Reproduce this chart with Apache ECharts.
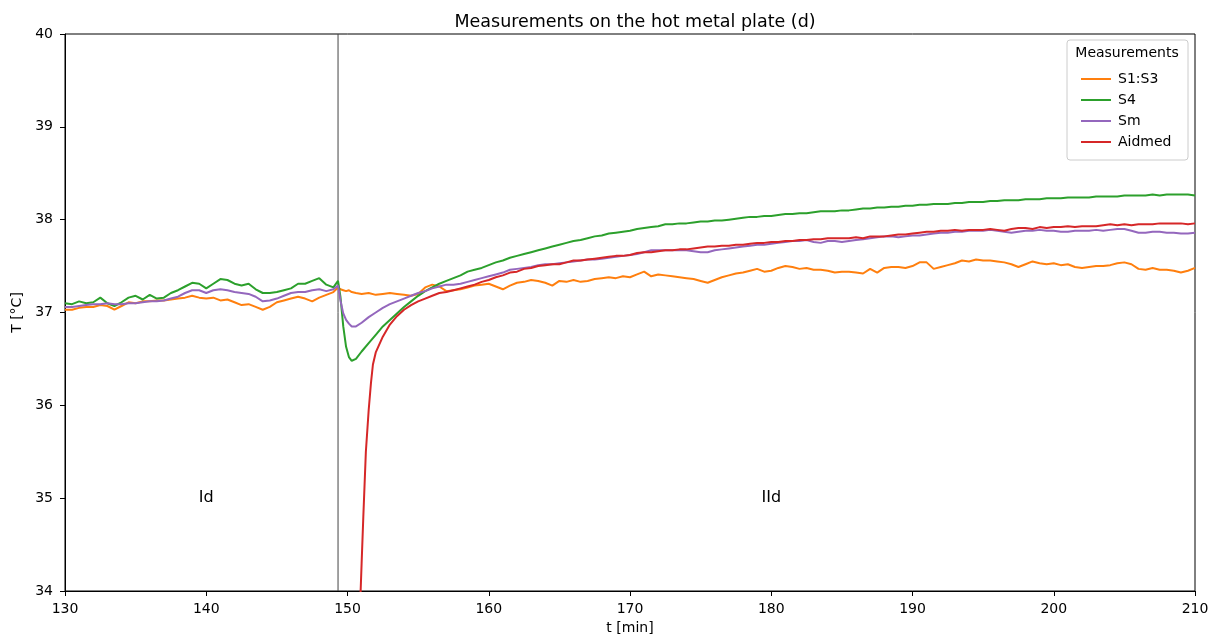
<!DOCTYPE html>
<html>
<head>
<meta charset="utf-8">
<title>Measurements on the hot metal plate (d)</title>
<script src="https://cdn.jsdelivr.net/npm/echarts@6/dist/echarts.min.js"></script>
<style>
  html, body { margin: 0; padding: 0; background: #fff; }
  #chart { width: 1217px; height: 641px; }
</style>
</head>
<body>
<div id="chart"></div>
<script>
// Time stamps [min] of the phase Id samples (ending at the phase boundary)
const timePre = [130, 130.5, 131, 131.5, 132, 132.5, 133, 133.5, 134, 134.5,
  135, 135.5, 136, 136.5, 137, 137.5, 138, 138.5, 139, 139.5,
  140, 140.5, 141, 141.5, 142, 142.5, 143, 143.5, 144, 144.5,
  145, 145.5, 146, 146.5, 147, 147.5, 148, 148.5, 149, 149.33];

// Time stamps [min] of the phase IId samples
const timePost = [149.5, 149.7, 149.9, 150.1, 150.3, 150.6,
  151, 151.5, 152, 152.5, 153, 153.5, 154, 154.5, 155, 155.5,
  156, 156.5, 157, 157.5, 158, 158.5, 159, 159.5, 160, 160.5,
  161, 161.5, 162, 162.5, 163, 163.5, 164, 164.5, 165, 165.5,
  166, 166.5, 167, 167.5, 168, 168.5, 169, 169.5, 170, 170.5,
  171, 171.5, 172, 172.5, 173, 173.5, 174, 174.5, 175, 175.5,
  176, 176.5, 177, 177.5, 178, 178.5, 179, 179.5, 180, 180.5,
  181, 181.5, 182, 182.5, 183, 183.5, 184, 184.5, 185, 185.5,
  186, 186.5, 187, 187.5, 188, 188.5, 189, 189.5, 190, 190.5,
  191, 191.5, 192, 192.5, 193, 193.5, 194, 194.5, 195, 195.5,
  196, 196.5, 197, 197.5, 198, 198.5, 199, 199.5, 200, 200.5,
  201, 201.5, 202, 202.5, 203, 203.5, 204, 204.5, 205, 205.5,
  206, 206.5, 207, 207.5, 208, 208.5, 209, 209.5,
  210];

// Time stamps [min] of the Aidmed samples (sensor recovers from below the range)
const timeAidmed = [150.85, 150.93, 151.0, 151.12, 151.3, 151.5, 151.66, 151.8, 152,
  152.5, 153, 153.5, 154, 154.5, 155, 155.5,
  156, 156.5, 157, 157.5, 158, 158.5, 159, 159.5, 160, 160.5,
  161, 161.5, 162, 162.5, 163, 163.5, 164, 164.5, 165, 165.5,
  166, 166.5, 167, 167.5, 168, 168.5, 169, 169.5, 170, 170.5,
  171, 171.5, 172, 172.5, 173, 173.5, 174, 174.5, 175, 175.5,
  176, 176.5, 177, 177.5, 178, 178.5, 179, 179.5, 180, 180.5,
  181, 181.5, 182, 182.5, 183, 183.5, 184, 184.5, 185, 185.5,
  186, 186.5, 187, 187.5, 188, 188.5, 189, 189.5, 190, 190.5,
  191, 191.5, 192, 192.5, 193, 193.5, 194, 194.5, 195, 195.5,
  196, 196.5, 197, 197.5, 198, 198.5, 199, 199.5, 200, 200.5,
  201, 201.5, 202, 202.5, 203, 203.5, 204, 204.5, 205, 205.5,
  206, 206.5, 207, 207.5, 208, 208.5, 209, 209.5,
  210];

// S1:S3 temperature [°C]
const s13Pre = [37.03, 37.03, 37.05, 37.06, 37.06, 37.08, 37.07, 37.03, 37.07, 37.11,
  37.10, 37.12, 37.12, 37.13, 37.13, 37.14, 37.15, 37.16, 37.18, 37.16,
  37.15, 37.16, 37.13, 37.14, 37.11, 37.08, 37.09, 37.06, 37.03, 37.06,
  37.11, 37.13, 37.15, 37.17, 37.15, 37.12, 37.16, 37.19, 37.22, 37.27];
const s13Post = [37.25, 37.24, 37.23, 37.24, 37.22, 37.21,
  37.20, 37.21, 37.19, 37.20, 37.21, 37.20, 37.19, 37.18, 37.20, 37.27,
  37.30, 37.28, 37.23, 37.24, 37.25, 37.27, 37.29, 37.30, 37.31, 37.28,
  37.25, 37.29, 37.32, 37.33, 37.35, 37.34, 37.32, 37.29, 37.34, 37.33,
  37.35, 37.33, 37.34, 37.36, 37.37, 37.38, 37.37, 37.39, 37.38, 37.41,
  37.44, 37.39, 37.41, 37.40, 37.39, 37.38, 37.37, 37.36, 37.34, 37.32,
  37.35, 37.38, 37.40, 37.42, 37.43, 37.45, 37.47, 37.44, 37.45, 37.48,
  37.50, 37.49, 37.47, 37.48, 37.46, 37.46, 37.45, 37.43, 37.44, 37.44,
  37.43, 37.42, 37.47, 37.43, 37.48, 37.49, 37.49, 37.48, 37.50, 37.54,
  37.54, 37.47, 37.49, 37.51, 37.53, 37.56, 37.55, 37.57, 37.56, 37.56,
  37.55, 37.54, 37.52, 37.49, 37.52, 37.55, 37.53, 37.52, 37.53, 37.51,
  37.52, 37.49, 37.48, 37.49, 37.50, 37.50, 37.51, 37.53, 37.54, 37.52,
  37.47, 37.46, 37.48, 37.46, 37.46, 37.45, 37.43, 37.45,
  37.48];

// S4 temperature [°C]
const s4Pre = [37.10, 37.09, 37.12, 37.10, 37.11, 37.16, 37.10, 37.07, 37.11, 37.16,
  37.18, 37.14, 37.19, 37.15, 37.16, 37.21, 37.24, 37.28, 37.32, 37.31,
  37.26, 37.31, 37.36, 37.35, 37.31, 37.29, 37.31, 37.25, 37.21, 37.21,
  37.22, 37.24, 37.26, 37.31, 37.31, 37.34, 37.37, 37.30, 37.27, 37.34];
const s4Post = [37.17, 36.85, 36.63, 36.52, 36.48, 36.50,
  36.58, 36.67, 36.76, 36.85, 36.92, 36.99, 37.06, 37.12, 37.18, 37.23,
  37.27, 37.31, 37.34, 37.37, 37.40, 37.44, 37.46, 37.48, 37.51, 37.54,
  37.56, 37.59, 37.61, 37.63, 37.65, 37.67, 37.69, 37.71, 37.73, 37.75,
  37.77, 37.78, 37.80, 37.82, 37.83, 37.85, 37.86, 37.87, 37.88, 37.90,
  37.91, 37.92, 37.93, 37.95, 37.95, 37.96, 37.96, 37.97, 37.98, 37.98,
  37.99, 37.99, 38.00, 38.01, 38.02, 38.03, 38.03, 38.04, 38.04, 38.05,
  38.06, 38.06, 38.07, 38.07, 38.08, 38.09, 38.09, 38.09, 38.10, 38.10,
  38.11, 38.12, 38.12, 38.13, 38.13, 38.14, 38.14, 38.15, 38.15, 38.16,
  38.16, 38.17, 38.17, 38.17, 38.18, 38.18, 38.19, 38.19, 38.19, 38.20,
  38.20, 38.21, 38.21, 38.21, 38.22, 38.22, 38.22, 38.23, 38.23, 38.23,
  38.24, 38.24, 38.24, 38.24, 38.25, 38.25, 38.25, 38.25, 38.26, 38.26,
  38.26, 38.26, 38.27, 38.26, 38.27, 38.27, 38.27, 38.27,
  38.26];

// Sm temperature [°C]
const smPre = [37.06, 37.06, 37.07, 37.08, 37.09, 37.09, 37.10, 37.09, 37.09, 37.10,
  37.10, 37.11, 37.12, 37.12, 37.13, 37.15, 37.17, 37.21, 37.24, 37.24,
  37.21, 37.24, 37.25, 37.24, 37.22, 37.21, 37.20, 37.17, 37.12, 37.13,
  37.15, 37.18, 37.21, 37.22, 37.22, 37.24, 37.25, 37.23, 37.25, 37.29];
const smPost = [37.13, 36.99, 36.92, 36.88, 36.85, 36.85,
  36.89, 36.95, 37.00, 37.05, 37.09, 37.12, 37.15, 37.18, 37.21, 37.23,
  37.26, 37.28, 37.30, 37.30, 37.31, 37.33, 37.35, 37.37, 37.39, 37.41,
  37.43, 37.46, 37.47, 37.48, 37.49, 37.51, 37.52, 37.52, 37.53, 37.54,
  37.55, 37.56, 37.57, 37.57, 37.58, 37.59, 37.60, 37.61, 37.62, 37.63,
  37.65, 37.67, 37.67, 37.67, 37.67, 37.67, 37.67, 37.66, 37.65, 37.65,
  37.67, 37.68, 37.69, 37.70, 37.71, 37.72, 37.73, 37.73, 37.74, 37.75,
  37.76, 37.77, 37.77, 37.78, 37.76, 37.75, 37.77, 37.77, 37.76, 37.77,
  37.78, 37.79, 37.80, 37.81, 37.82, 37.82, 37.81, 37.82, 37.83, 37.83,
  37.84, 37.85, 37.86, 37.86, 37.87, 37.87, 37.88, 37.88, 37.88, 37.89,
  37.88, 37.87, 37.86, 37.87, 37.88, 37.88, 37.89, 37.88, 37.88, 37.87,
  37.87, 37.88, 37.88, 37.88, 37.89, 37.88, 37.89, 37.90, 37.90, 37.88,
  37.86, 37.86, 37.87, 37.87, 37.86, 37.86, 37.85, 37.85,
  37.86];

// Aidmed temperature [°C]
const aidmedVals = [33.6, 34.0, 34.3, 34.8, 35.5, 35.95, 36.24, 36.44, 36.57,
  36.74, 36.87, 36.96, 37.03, 37.08, 37.12, 37.15,
  37.18, 37.21, 37.22, 37.24, 37.26, 37.28, 37.30, 37.33, 37.35, 37.38,
  37.40, 37.43, 37.44, 37.47, 37.48, 37.50, 37.51, 37.52, 37.52, 37.54,
  37.56, 37.56, 37.57, 37.58, 37.59, 37.60, 37.61, 37.61, 37.62, 37.64,
  37.65, 37.65, 37.66, 37.67, 37.67, 37.68, 37.68, 37.69, 37.70, 37.71,
  37.71, 37.72, 37.72, 37.73, 37.73, 37.74, 37.75, 37.75, 37.76, 37.76,
  37.77, 37.77, 37.78, 37.78, 37.79, 37.79, 37.80, 37.80, 37.80, 37.80,
  37.81, 37.80, 37.82, 37.82, 37.82, 37.83, 37.84, 37.84, 37.85, 37.86,
  37.87, 37.87, 37.88, 37.88, 37.89, 37.88, 37.89, 37.89, 37.89, 37.90,
  37.89, 37.88, 37.90, 37.91, 37.91, 37.90, 37.92, 37.91, 37.92, 37.92,
  37.93, 37.92, 37.93, 37.93, 37.93, 37.94, 37.95, 37.94, 37.95, 37.94,
  37.95, 37.95, 37.95, 37.96, 37.96, 37.96, 37.96, 37.95,
  37.96];

const seriesNames = ['S1:S3', 'S4', 'Sm', 'Aidmed'];
const seriesColors = ['#ff7f0e', '#2ca02c', '#9467bd', '#d62728'];

// Boundary between phases Id and IId [min]
const phaseBoundary = 149.33;
const phaseLabels = ['Id', 'IId'];
const phaseLabelTimes = [140, 180];
const phaseLabelTemp = 35;

const xMin = 130, xMax = 210, xStep = 10;
const yMin = 34, yMax = 40, yStep = 1;

function pairs(times, vals) {
  return times.map((t, i) => [t, vals[i]]);
}

const seriesData = [
  pairs(timePre.concat(timePost), s13Pre.concat(s13Post)),
  pairs(timePre.concat(timePost), s4Pre.concat(s4Post)),
  pairs(timePre.concat(timePost), smPre.concat(smPost)),
  pairs(timeAidmed, aidmedVals)
];

const FONT = 'DejaVu Sans';
const chart = echarts.init(document.getElementById('chart'), null, { renderer: 'canvas' });

const lineSeries = seriesNames.map((name, i) => ({
  name: name,
  type: 'line',
  data: seriesData[i],
  showSymbol: false,
  symbol: 'none',
  animation: false,
  clip: true,
  z: 3 + i,
  lineStyle: { color: seriesColors[i], width: 2 },
  itemStyle: { color: seriesColors[i] }
}));

const option = {
  animation: false,
  backgroundColor: '#ffffff',
  textStyle: { fontFamily: FONT },
  title: {
    text: 'Measurements on the hot metal plate (d)',
    left: 630,
    top: 8,
    textAlign: 'center',
    textStyle: { fontFamily: FONT, fontSize: 17.5, fontWeight: 'normal', color: '#000' }
  },
  grid: {
    left: 65, right: 22, top: 34, bottom: 50,
    show: true, borderColor: '#000', borderWidth: 1, backgroundColor: 'transparent'
  },
  xAxis: {
    type: 'value',
    min: xMin, max: xMax, interval: xStep,
    name: 't [min]',
    nameLocation: 'middle',
    nameGap: 30,
    nameTextStyle: { fontFamily: FONT, fontSize: 14, color: '#000' },
    axisLine: { show: true, onZero: false, lineStyle: { color: '#000', width: 1 } },
    axisTick: { show: true, inside: false, length: 5, lineStyle: { color: '#000' } },
    axisLabel: { fontFamily: FONT, fontSize: 14, color: '#000', margin: 11 },
    splitLine: { show: false }
  },
  yAxis: {
    type: 'value',
    min: yMin, max: yMax, interval: yStep,
    name: 'T [°C]',
    nameLocation: 'middle',
    nameGap: 38,
    nameRotate: 90,
    nameTextStyle: { fontFamily: FONT, fontSize: 14, color: '#000' },
    axisLine: { show: true, onZero: false, lineStyle: { color: '#000', width: 1 } },
    axisTick: { show: true, inside: false, length: 5, lineStyle: { color: '#000' } },
    axisLabel: { fontFamily: FONT, fontSize: 14, color: '#000', margin: 12 },
    splitLine: { show: false }
  },
  legend: {
    data: seriesNames,
    orient: 'vertical',
    left: 1076,
    top: 67,
    z: 20,
    icon: 'rect',
    itemWidth: 30,
    itemHeight: 2,
    itemGap: 7,
    textStyle: { fontFamily: FONT, fontSize: 14, color: '#000', padding: [0, 0, 0, 2] }
  },
  graphic: [
    {
      type: 'rect',
      shape: { x: 1067, y: 40, width: 121, height: 120, r: 3 },
      style: { fill: 'rgba(255,255,255,0.8)', stroke: '#cccccc', lineWidth: 1 },
      z: 10
    },
    {
      type: 'text',
      x: 1127, y: 53,
      style: {
        text: 'Measurements', fontFamily: FONT, fontSize: 14, fill: '#000',
        textAlign: 'center', textVerticalAlign: 'middle'
      },
      z: 11
    }
  ],
  series: lineSeries.concat([
    {
      name: 'phase boundary',
      type: 'line',
      data: [[phaseBoundary, yMin], [phaseBoundary, yMax]],
      symbol: 'none',
      silent: true,
      z: 2,
      lineStyle: { color: '#444', width: 1 }
    },
    {
      name: 'phase labels',
      type: 'scatter',
      symbolSize: 1,
      silent: true,
      itemStyle: { color: '#ffffff', opacity: 1 },
      data: phaseLabels.map((lab, i) => ({ name: lab, value: [phaseLabelTimes[i], phaseLabelTemp] })),
      label: {
        show: true,
        formatter: '{b}',
        position: [0.5, 0.5],
        align: 'center',
        verticalAlign: 'middle',
        fontFamily: FONT,
        fontSize: 16,
        color: '#000000',
        opacity: 1
      }
    }
  ])
};

chart.setOption(option);
</script>
</body>
</html>
